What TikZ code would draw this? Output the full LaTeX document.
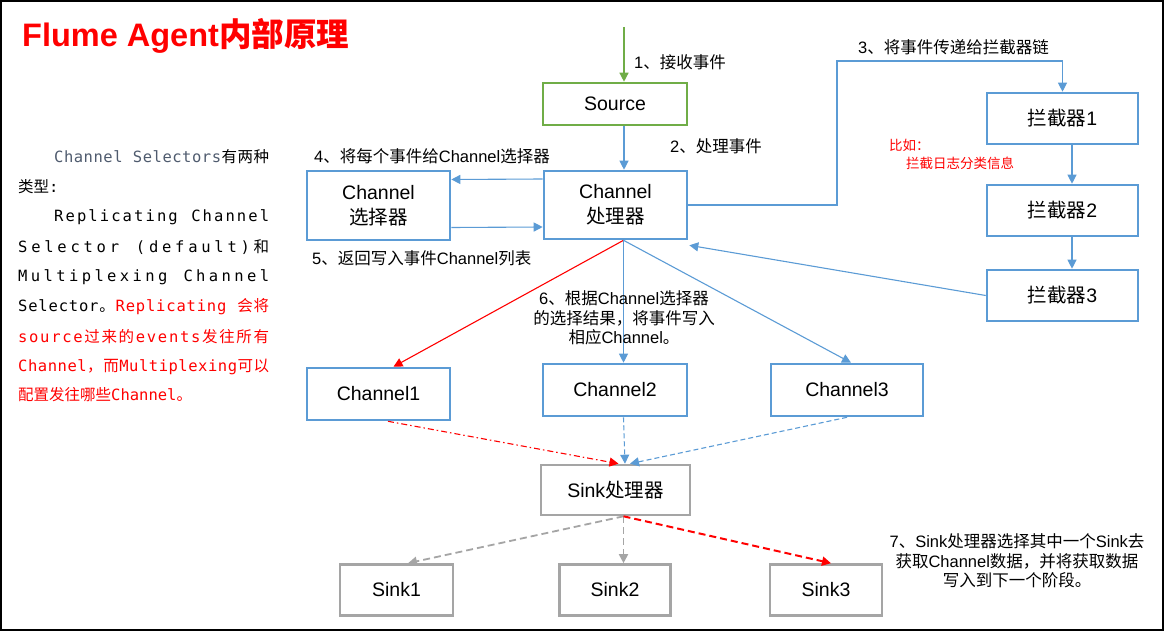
\documentclass[tikz,border=0pt]{standalone}
\usepackage{fontspec}
\usetikzlibrary{arrows.meta}
\setmainfont{Liberation Sans}
\newfontfamily\cjk{Noto Sans CJK SC}
\newfontfamily\monof{DejaVu Sans Mono}
\XeTeXinterchartokenstate=1
\newXeTeXintercharclass\CJKcls
\makeatletter
\def\setcjkrange#1#2{\count@=#1\relax\loop\XeTeXcharclass\count@=\CJKcls\ifnum\count@<#2\advance\count@ by 1\repeat}
\makeatother
\setcjkrange{"3000}{"303F}
\setcjkrange{"4E00}{"9FFF}
\setcjkrange{"FF00}{"FFEF}
\XeTeXinterchartoks 0 \CJKcls = {\begingroup\cjk}
\XeTeXinterchartoks 4095 \CJKcls = {\begingroup\cjk}
\XeTeXinterchartoks \CJKcls 0 = {\endgroup}
\XeTeXinterchartoks \CJKcls 4095 = {\endgroup}
\definecolor{blueC}{HTML}{5B9BD5}
\definecolor{greenC}{HTML}{70AD47}
\definecolor{grayC}{HTML}{A5A5A5}
\definecolor{slateC}{HTML}{4F5B6E}
\protected\def\Rsw{R}
\protected\def\Ksw{K}
\ExplSyntaxOn
\NewDocumentCommand \spreadline { m m }
  {
    \hbox_to_wd:nn {#1}
      {
        \tl_map_inline:nn {#2}
          {
            \token_if_eq_meaning:NNTF ##1 \Rsw
              { \color{red} }
              {
                \token_if_eq_meaning:NNTF ##1 \Ksw
                  { \color{black} }
                  { ##1 \hfil }
              }
          }
        \unskip
      }
  }
\ExplSyntaxOff
\newcommand\lblfont{\fontsize{16.5}{19.5}\selectfont}
\newcommand\boxfont{\fontsize{19.5}{25}\selectfont}
\newcommand\monofont{\monof\fontsize{15.5}{18}\selectfont}
\begin{document}
\begin{tikzpicture}[x=1pt,y=-1pt,
  box/.style={draw, line width=2.6pt, inner sep=0pt, align=center, font=\boxfont, text=black},
  bbox/.style={box, draw=blueC},
  gbox/.style={box, draw=greenC},
  ybox/.style={box, draw=grayC},
  tip/.style={-{Triangle[length=9pt,width=9pt]}},
  barr/.style={tip, line width=1.1pt, draw=blueC},
  garr/.style={tip, line width=1.4pt, draw=greenC},
  rarr/.style={tip, line width=1.1pt, draw=red},
  gyarr/.style={tip, line width=1.8pt, draw=grayC, dash pattern=on 7pt off 4pt},
  rdarr/.style={tip, line width=2pt, draw=red, dash pattern=on 7pt off 4pt},
  dashdot/.style={dash pattern=on 6pt off 3pt on 1.5pt off 3pt},
  shortdash/.style={dash pattern=on 5pt off 3pt},
  lbl/.style={inner sep=0pt, font=\lblfont, anchor=west},
  mlbl/.style={inner sep=0pt, font=\lblfont, align=center},
  note/.style={inner sep=0pt, font=\fontsize{13.5}{16}\selectfont, text=red, anchor=west},
  mono/.style={inner sep=0pt, font=\monofont, anchor=west}
]
\useasboundingbox (0,0) rectangle (1164,631);
\draw[line width=2pt] (1,1) rectangle (1163,630);

% title
\node[inner sep=0pt, anchor=west, text=red, font=\fontsize{32.5}{36}\selectfont\bfseries] (title) at (22,36) {Flume Agent内部原理};

% left description
\node[mono, text=slateC] (d1) at (54,157) {\spreadline{215pt}{Channel\ Selectors\Ksw 有两种}};
\node[mono] (d2) at (18,187) {类型:};
\node[mono] (d3) at (54,217) {\spreadline{215pt}{Replicating\ Channel}};
\node[mono] (d4) at (18,247) {\spreadline{251pt}{Selector\ (default)和}};
\node[mono] (d5) at (18,277) {\spreadline{251pt}{Multiplexing\ Channel}};
\node[mono] (d6) at (18,307) {\spreadline{251pt}{Selector。\Rsw Replicating\ 会将}};
\node[mono, text=red] (d7) at (18,337) {\spreadline{251pt}{source过来的events发往所有}};
\node[mono, text=red] (d8) at (18,367) {\spreadline{251pt}{Channel，而Multiplexing可以}};
\node[mono, text=red] (d9) at (18,395) {配置发往哪些Channel。};

% boxes
\node[gbox, minimum width=144pt, minimum height=42pt] (src) at (615,104) {Source};
\node[bbox, minimum width=143pt, minimum height=68pt] (proc) at (615.5,205) {Channel\\处理器};
\node[bbox, minimum width=143pt, minimum height=69pt] (sel) at (378.5,205.5) {Channel\\选择器};
\node[bbox, minimum width=151pt, minimum height=51pt] (i1) at (1062.5,118.5) {拦截器1};
\node[bbox, minimum width=151pt, minimum height=51pt] (i2) at (1062.5,210.5) {拦截器2};
\node[bbox, minimum width=151pt, minimum height=51pt] (i3) at (1062.5,295.5) {拦截器3};
\node[bbox, minimum width=143pt, minimum height=52pt] (c1) at (378.5,394) {Channel1};
\node[bbox, minimum width=144pt, minimum height=52pt] (c2) at (615,390) {Channel2};
\node[bbox, minimum width=152pt, minimum height=52pt] (c3) at (847,390) {Channel3};
\node[ybox, minimum width=149pt, minimum height=50pt] (sp) at (615.5,490) {Sink处理器};
\node[ybox, minimum width=113pt, minimum height=51pt] (s1) at (396.5,590) {Sink1};
\node[ybox, minimum width=111pt, minimum height=51pt] (s2) at (615,590) {Sink2};
\node[ybox, minimum width=112pt, minimum height=51pt] (s3) at (826,590) {Sink3};

% connectors
\coordinate (top) at (624,27);
\draw[garr] (top) -- (top |- src.north);
\draw[barr] (src.south -| top) -- (proc.north -| top);
\draw[barr] ([yshift=26pt]proc.west) -- ([yshift=26pt]sel.east);
\draw[barr] ([yshift=-22pt]sel.east) -- ([yshift=-22pt]proc.west);
\coordinate (k3) at (837,61);
\draw[barr] (proc.east) -| (k3) -| (i1.north);
\draw[barr] ([xshift=9.5pt]i1.south) -- ([xshift=9.5pt]i2.north);
\draw[barr] ([xshift=9.5pt]i2.south) -- ([xshift=9.5pt]i3.north);
\draw[barr] (i3.west) -- ([xshift=1pt,yshift=-5pt]proc.south east);
\coordinate (pb) at ([xshift=8pt]proc.south);
\draw[rarr] (pb) -- ([xshift=15pt]c1.north);
\draw[barr] (pb) -- (c2.north -| pb);
\draw[barr] (pb) -- ([xshift=4pt]c3.north);
\draw[rarr, dashdot] ([xshift=9.5pt]c1.south) -- ([xshift=3pt]sp.north);
\draw[barr, shortdash] (c2.south -| pb) -- ([xshift=9.5pt]sp.north);
\draw[barr, shortdash] (c3.south) -- ([xshift=14.5pt]sp.north);
\coordinate (sb) at ([xshift=8pt]sp.south);
\draw[gyarr] (sb) -- ([xshift=11.5pt]s1.north);
\draw[gyarr] (sb) -- (s2.north -| sb);
\draw[rdarr] (sb) -- ([xshift=5pt]s3.north);

% labels
\node[lbl] (l1) at (634,62) {1、接收事件};
\node[lbl] (l2) at (670,146) {2、处理事件};
\node[lbl] (l3) at (858,47) {3、将事件传递给拦截器链};
\node[lbl] (l4) at (314,156) {4、将每个事件给Channel选择器};
\node[lbl] (l5) at (312,258) {5、返回写入事件Channel列表};
\node[mlbl] (l6) at (624,318) {6、根据Channel选择器\\的选择结果，将事件写入\\相应Channel。};
\node[mlbl] (l7) at (1017,561) {7、Sink处理器选择其中一个Sink去\\获取Channel数据，并将获取数据\\写入到下一个阶段。};
\node[note] (n1) at (889,145) {比如：};
\node[note] (n2) at (906,163) {拦截日志分类信息};
\end{tikzpicture}
\end{document}
